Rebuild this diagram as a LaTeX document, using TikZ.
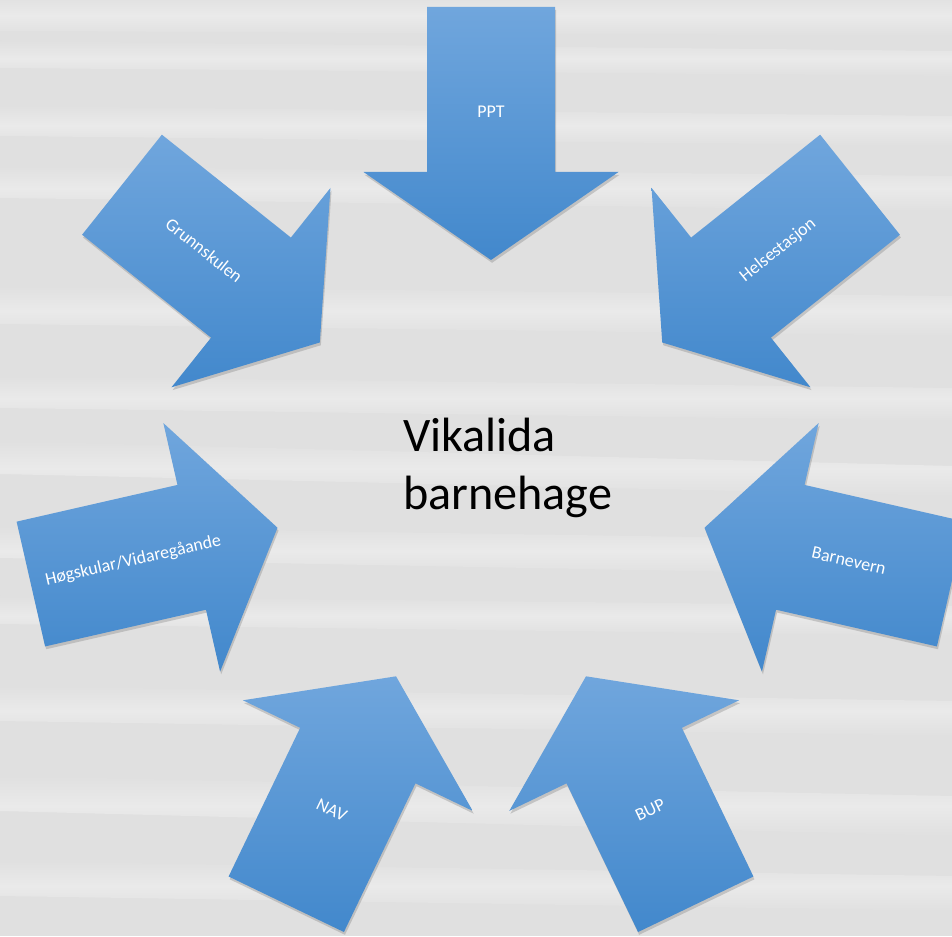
\documentclass[tikz,border=0pt]{standalone}
\usepackage{fontspec}
\setmainfont{Carlito}
\usetikzlibrary{shadows}
\definecolor{wallgrey}{RGB}{224,224,224}
\definecolor{streakwhite}{RGB}{234,234,234}
\definecolor{arrowtop}{RGB}{112,166,221}
\definecolor{arrowbottom}{RGB}{66,136,204}
\tikzstyle{inflow} = [top color=arrowtop, bottom color=arrowbottom, drop shadow={opacity=0.35, shadow xshift=0.6pt, shadow yshift=-1.6pt}]
\tikzstyle{inlabel} = [text=white, font=\fontsize{10.2}{12}\selectfont, inner sep=0pt]
\tikzstyle{hubtext} = [text=black, font=\fontsize{27.4}{33}\selectfont, align=left, inner sep=0pt]
\tikzstyle{streak} = [top color=wallgrey, bottom color=wallgrey, middle color=streakwhite]

% #1 name, #2 angle of the arrow round the hub, #3 angle of the label, #4 label
\newcommand{\inflowarrow}[4]{%
  \path[inflow, shift={(hub)}, rotate=#2] (219,0) -- (307,127.5) -- (307,64) -- (472,64)
    -- (472,-64) -- (307,-64) -- (307,-127.5) -- cycle;
  \node[inlabel, rotate=#3] (#1) at ([shift={(#2:367)}]hub) {#4};
}

\begin{document}
\begin{tikzpicture}[x=0.02cm, y=0.02cm]
\useasboundingbox (0,0) rectangle (952,936);
\clip (0,0) rectangle (952,936);

% background
\fill[wallgrey] (0,0) rectangle (952,936);
\shade[streak] (0,940) -- (952,940) -- (952,900) -- (0,905) -- cycle;
\shade[streak] (0,895) -- (952,885) -- (952,860) -- (0,868) -- cycle;
\shade[streak] (0,830) -- (952,820) -- (952,790) -- (0,800) -- cycle;
\shade[streak] (0,770) -- (952,760) -- (952,725) -- (0,738) -- cycle;
\shade[streak] (0,650) -- (952,640) -- (952,600) -- (0,612) -- cycle;
\shade[streak] (0,560) -- (952,548) -- (952,515) -- (0,528) -- cycle;
\shade[streak] (0,495) -- (952,470) -- (952,440) -- (0,462) -- cycle;
\shade[streak] (0,410) -- (952,395) -- (952,360) -- (0,378) -- cycle;
\shade[streak] (0,340) -- (952,330) -- (952,300) -- (0,312) -- cycle;
\shade[streak] (0,250) -- (952,235) -- (952,200) -- (0,215) -- cycle;
\shade[streak] (0,160) -- (952,140) -- (952,100) -- (0,125) -- cycle;
\shade[streak] (0,75) -- (952,60) -- (952,25) -- (0,40) -- cycle;

\coordinate (hub) at (491,457);

\inflowarrow{ppt}{90}{0}{PPT}
\inflowarrow{helse}{38.57}{38.57}{Helsestasjon}
\inflowarrow{barnevern}{-12.86}{-12.86}{Barnevern}
\inflowarrow{bup}{-64.29}{25.71}{BUP}
\inflowarrow{nav}{-115.71}{-25.71}{NAV}
\inflowarrow{hogskule}{192.86}{12.86}{Høgskular/Vidaregåande}
\inflowarrow{grunnskule}{141.43}{-38.57}{Grunnskulen}

\node[hubtext] (barnehage) at (507.5,468.5) {Vikalida\\barnehage};
\end{tikzpicture}
\end{document}
